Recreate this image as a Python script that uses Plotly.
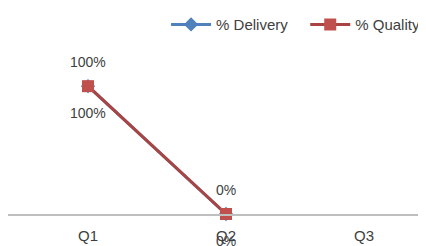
import plotly.graph_objects as go

quarters = ["Q1", "Q2", "Q3"]
delivery = [1.0, 0.0, None]
quality = [1.0, 0.0, None]
series_names = ["% Delivery", "% Quality"]

BLUE = "#4F81BD"
RED = "#C0504D"
TEXT = "#404040"
FONT = "Liberation Sans"
NBSP = "\u00a0"

fig = go.Figure()
fig.add_trace(go.Scatter(
    x=quarters, y=delivery, name=series_names[0] + NBSP * 3, mode="lines+markers",
    line=dict(color=BLUE, width=3),
    marker=dict(symbol="diamond", size=11, color=BLUE),
    cliponaxis=False,
))
fig.add_trace(go.Scatter(
    x=quarters, y=quality, name=series_names[1], mode="lines+markers",
    line=dict(color="#A94442", width=3),
    marker=dict(symbol="square", size=12, color=RED),
    cliponaxis=False,
))

annotations = []
for q, v in zip(quarters, delivery):
    if v is not None:
        annotations.append(dict(x=q, y=v, text=f"{v:.0%}", showarrow=False,
                                yshift=24, font=dict(family=FONT, size=14, color=TEXT)))
for q, v in zip(quarters, quality):
    if v is not None:
        annotations.append(dict(x=q, y=v, text=f"{v:.0%}", showarrow=False,
                                yshift=-27, font=dict(family=FONT, size=14, color=TEXT)))

fig.update_layout(
    width=426, height=246,
    margin=dict(l=0, r=0, t=0, b=40),
    paper_bgcolor="white", plot_bgcolor="white",
    font=dict(family=FONT, size=14, color=TEXT),
    showlegend=True,
    legend=dict(orientation="h", x=0.371, xanchor="left", y=0.956, yanchor="middle",
                font=dict(family=FONT, size=15, color=TEXT),
                bgcolor="rgba(0,0,0,0)", itemwidth=40, tracegroupgap=0),
    annotations=annotations,
    xaxis=dict(type="category", range=[-0.5797, 2.507], showgrid=False, zeroline=False,
               showline=True, linecolor="#BFBFBF", linewidth=2,
               ticks="", ticklabelstandoff=7,
               tickfont=dict(family=FONT, size=15, color=TEXT)),
    yaxis=dict(range=[0, 1.549], visible=False, showgrid=False, zeroline=False),
)

fig.write_html("out.html")
